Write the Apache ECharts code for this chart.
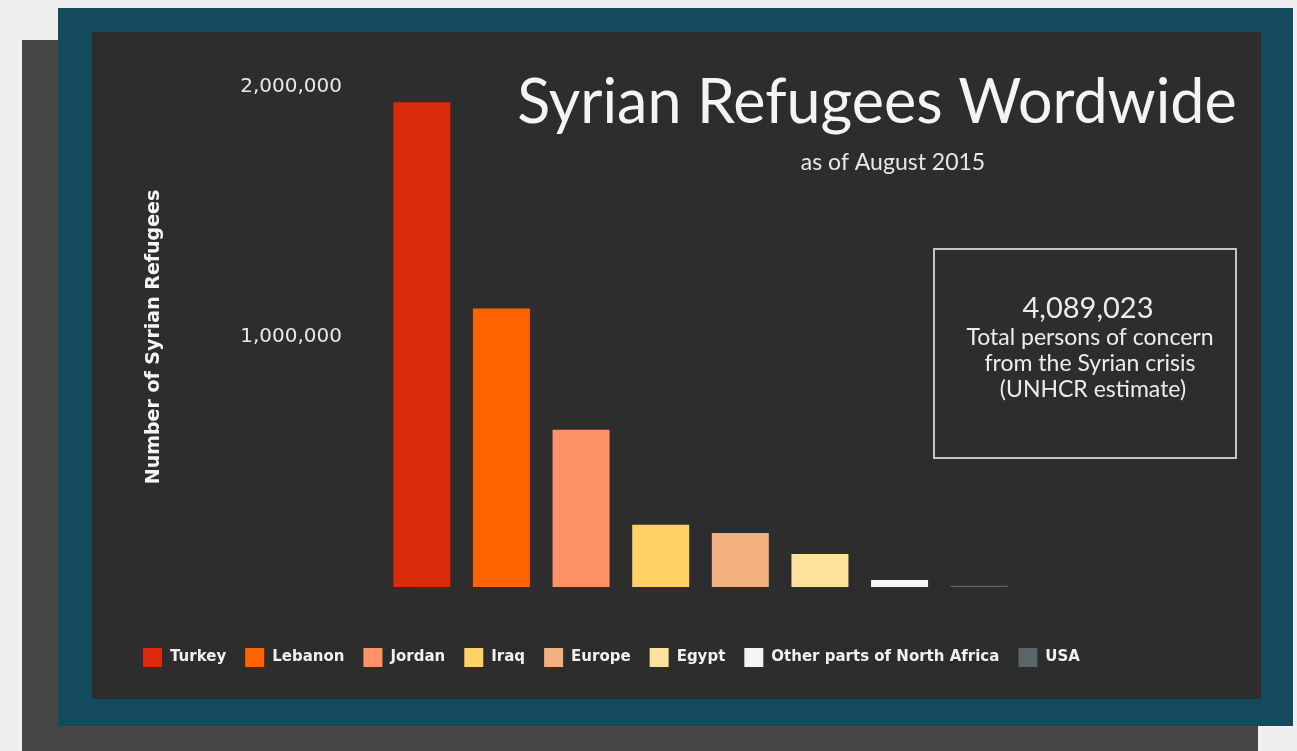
<!DOCTYPE html>
<html>
<head>
<meta charset="utf-8">
<script src="https://cdn.jsdelivr.net/npm/echarts@6/dist/echarts.min.js"></script>
<style>
  html, body { margin: 0; padding: 0; background: #efefef; }
  #main { width: 1297px; height: 751px; }
</style>
</head>
<body>
<div id="main"></div>
<script>
// data (Aug 2015)
var countries = ['Turkey', 'Lebanon', 'Jordan', 'Iraq', 'Europe', 'Egypt', 'Other parts of North Africa', 'USA'];
var refugees = [1938999, 1113941, 629128, 249463, 216000, 132375, 28000, 5000];
var barColors = ['#dc2a0c', '#ff6200', '#ff9266', '#ffd166', '#f2b080', '#fde29c', '#f4f4f4', '#5b6466'];
var yTicks = [0, 1000000, 2000000];
var totalConcern = '4,089,023';
var totalNote = ['Total persons of concern', 'from the Syrian crisis', ' (UNHCR estimate)'];

var series = countries.map(function (name, i) {
  var d = countries.map(function (c, j) { return j === i ? refugees[i] : '-'; });
  return {
    name: name,
    type: 'bar',
    stack: 'all',
    barWidth: 57,
    data: d,
    itemStyle: { color: barColors[i] }
  };
});

var myChart = echarts.init(document.getElementById('main'));
var option = {
  backgroundColor: '#efefef',
  animation: false,
  title: [{
    text: 'Syrian Refugees Wordwide',
    left: 872,
    top: 68,
    textAlign: 'center',
    textStyle: { color: '#f4f4f4', fontFamily: 'Lato', fontWeight: 'normal', fontSize: 61 }
  }, {
    text: 'as of August 2015',
    left: 888,
    top: 146,
    textAlign: 'center',
    textStyle: { color: '#e8e8e8', fontFamily: 'Lato', fontWeight: 'normal', fontSize: 23 }
  }],
  legend: {
    data: countries,
    left: 138,
    top: 643,
    icon: 'rect',
    itemWidth: 19,
    itemHeight: 19,
    itemGap: 19,
    textStyle: { color: '#f0f0f0', fontFamily: 'DejaVu Sans', fontWeight: 'bold', fontSize: 15, padding: [0, 0, 0, 3] }
  },
  grid: { left: 382, width: 637, top: 87, bottom: 164 },
  xAxis: {
    type: 'category',
    data: countries,
    axisLine: { show: false },
    axisTick: { show: false },
    axisLabel: { show: false },
    splitLine: { show: false }
  },
  yAxis: {
    type: 'value',
    min: yTicks[0],
    max: yTicks[yTicks.length - 1],
    interval: yTicks[1] - yTicks[0],
    name: 'Number of Syrian Refugees',
    nameLocation: 'middle',
    nameGap: 218,
    nameTextStyle: { color: '#f4f4f4', fontFamily: 'DejaVu Sans', fontWeight: 'bold', fontSize: 19 },
    axisLine: { show: false },
    axisTick: { show: false },
    splitLine: { show: false },
    axisLabel: {
      margin: 40,
      color: '#e8e8e8',
      fontFamily: 'DejaVu Sans',
      fontSize: 20,
      formatter: function (v) { return v === 0 ? '' : v.toLocaleString('en-US'); }
    }
  },
  graphic: [
    { type: 'rect', z: -30, shape: { x: 22, y: 40, width: 1236, height: 720 }, style: { fill: '#464646' } },
    { type: 'rect', z: -20, shape: { x: 58, y: 8, width: 1235, height: 718 }, style: { fill: '#134a5c' } },
    { type: 'rect', z: -10, shape: { x: 92, y: 32, width: 1169, height: 667 }, style: { fill: '#2d2d2d' } },
    { type: 'rect', z: 5, shape: { x: 934, y: 249, width: 302, height: 209 }, style: { fill: 'none', stroke: '#c4c4c4', lineWidth: 2 } },
    { type: 'text', z: 6, x: 1088, y: 309, style: { text: totalConcern, fill: '#ececec', font: 'normal 29px Lato', textAlign: 'center', textVerticalAlign: 'middle' } },
    { type: 'text', z: 6, x: 1090, y: 338, style: { text: totalNote[0], fill: '#ececec', font: 'normal 23px Lato', textAlign: 'center', textVerticalAlign: 'middle' } },
    { type: 'text', z: 6, x: 1090, y: 364, style: { text: totalNote[1], fill: '#ececec', font: 'normal 23px Lato', textAlign: 'center', textVerticalAlign: 'middle' } },
    { type: 'text', z: 6, x: 1090, y: 390, style: { text: totalNote[2], fill: '#ececec', font: 'normal 23px Lato', textAlign: 'center', textVerticalAlign: 'middle' } }
  ],
  series: series
};
myChart.setOption(option);
</script>
</body>
</html>
